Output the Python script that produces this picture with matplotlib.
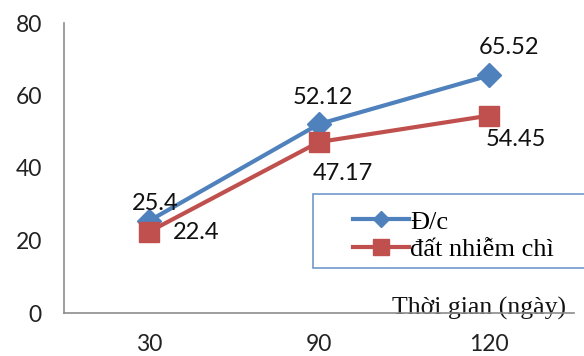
import matplotlib.pyplot as plt
from matplotlib.patches import Rectangle
from matplotlib.lines import Line2D

days = ['30', '90', '120']
doi_chung = [25.4, 52.12, 65.52]
nhiem_chi = [22.4, 47.17, 54.45]
y_ticks = [0, 20, 40, 60, 80]

blue = '#4F81BD'
red = '#C0504D'

fig = plt.figure(figsize=(5.84, 3.56), dpi=100)
ax = fig.add_axes([64 / 584, 43 / 356, 510 / 584, 290 / 356])

x = list(range(len(days)))
ax.plot(x, doi_chung, color=blue, lw=3, marker='D', ms=12, zorder=3)
ax.plot(x, nhiem_chi, color=red, lw=3, marker='s', ms=14.5, zorder=3)

ax.set_xlim(-0.5, 2.5)
ax.set_ylim(0, 80)
ax.set_xticks(x)
ax.set_xticklabels(days)
ax.set_yticks(y_ticks)
ax.tick_params(length=0, labelsize=16.5, labelcolor='#222222')
ax.tick_params(axis='x', pad=15)
ax.tick_params(axis='y', pad=16)
for t in ax.get_xticklabels() + ax.get_yticklabels():
    t.set_fontfamily('Lato')
for s in ['top', 'right']:
    ax.spines[s].set_visible(False)
for s in ['left', 'bottom']:
    ax.spines[s].set_color('#8C8C8C')
    ax.spines[s].set_linewidth(1.2)

# value labels (offsets in data units)
lab = dict(fontsize=17, family='Lato', color='#111111', va='center', ha='center')
offs_blue = [(0.035, 4.9), (0.02, 7.2), (0.12, 7.6)]
offs_red = [(0.28, -0.1), (0.14, -8.6), (0.16, -6.7)]
for i, v in enumerate(doi_chung):
    dx, dy = offs_blue[i]
    ax.text(x[i] + dx, v + dy, f'{v:g}', **lab)
for i, v in enumerate(nhiem_chi):
    dx, dy = offs_red[i]
    ax.text(x[i] + dx, v + dy, f'{v:g}', **lab)

ax.text(2.45, -0.3, 'Thời gian (ngày)', ha='right', va='baseline',
        fontsize=18.5, family='Liberation Serif', color='#111111',
        clip_on=False, zorder=1)

# legend box
fig.patches.append(Rectangle((313 / 584, 1 - 268 / 356), 300 / 584, 74 / 356,
                             transform=fig.transFigure, fill=True, fc='white',
                             ec='#6F98CC', lw=1.2, zorder=5))
handles = [Line2D([], [], color=blue, lw=3, marker='D', ms=8.5),
           Line2D([], [], color=red, lw=3, marker='s', ms=12)]
leg = fig.legend(handles, ['Đ/c', 'đất nhiễm chì'], loc='upper left',
                 bbox_to_anchor=(340 / 584, 1 - 197 / 356), frameon=False,
                 prop={'family': 'Liberation Serif', 'size': 19},
                 handlelength=2.1, handletextpad=0.05, labelspacing=0.15,
                 borderpad=0)
leg.set_zorder(6)

fig.savefig('out.png', dpi=100)
